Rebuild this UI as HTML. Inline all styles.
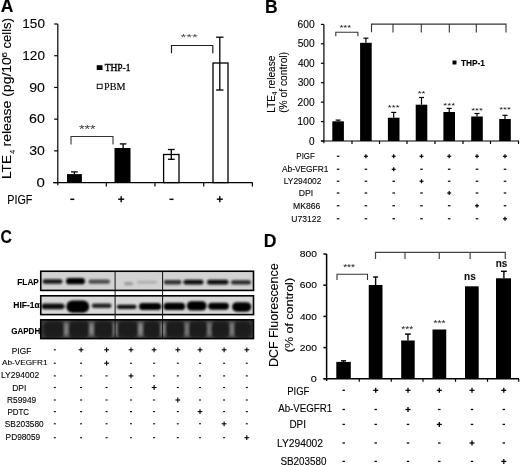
<!DOCTYPE html>
<html><head><meta charset="utf-8"><style>
html,body{margin:0;padding:0;background:#fff;font-family:"Liberation Sans", sans-serif;overflow:hidden;}
svg{display:block;filter:blur(0.35px);}
</style></head><body>
<svg width="520" height="465" viewBox="0 0 520 465">
<rect width="520" height="465" fill="#fff"/>
<text x="0.80" y="12.30" font-size="17.5" text-anchor="start" font-weight="bold" font-family="Liberation Sans" fill="#000" stroke="#000" stroke-width="0.1" >A</text>
<line x1="57.80" y1="24.00" x2="57.80" y2="185.20" stroke="#000" stroke-width="1.2"/>
<line x1="54.20" y1="182.60" x2="57.80" y2="182.60" stroke="#000" stroke-width="1.2"/>
<text x="36.60" y="186.88" font-size="12.43" text-anchor="start" font-weight="normal" font-family="Liberation Sans" fill="#000" stroke="#000" stroke-width="0.1" textLength="8.38" lengthAdjust="spacingAndGlyphs" >0</text>
<line x1="54.20" y1="150.88" x2="57.80" y2="150.88" stroke="#000" stroke-width="1.2"/>
<text x="29.26" y="155.16" font-size="12.43" text-anchor="start" font-weight="normal" font-family="Liberation Sans" fill="#000" stroke="#000" stroke-width="0.1" textLength="15.68" lengthAdjust="spacingAndGlyphs" >30</text>
<line x1="54.20" y1="119.16" x2="57.80" y2="119.16" stroke="#000" stroke-width="1.2"/>
<text x="29.09" y="123.44" font-size="12.43" text-anchor="start" font-weight="normal" font-family="Liberation Sans" fill="#000" stroke="#000" stroke-width="0.1" textLength="15.86" lengthAdjust="spacingAndGlyphs" >60</text>
<line x1="54.20" y1="87.44" x2="57.80" y2="87.44" stroke="#000" stroke-width="1.2"/>
<text x="29.15" y="91.72" font-size="12.43" text-anchor="start" font-weight="normal" font-family="Liberation Sans" fill="#000" stroke="#000" stroke-width="0.1" textLength="15.8" lengthAdjust="spacingAndGlyphs" >90</text>
<line x1="54.20" y1="55.72" x2="57.80" y2="55.72" stroke="#000" stroke-width="1.2"/>
<text x="22.37" y="60.00" font-size="12.43" text-anchor="start" font-weight="normal" font-family="Liberation Sans" fill="#000" stroke="#000" stroke-width="0.1" textLength="22.55" lengthAdjust="spacingAndGlyphs" >120</text>
<line x1="54.20" y1="24.00" x2="57.80" y2="24.00" stroke="#000" stroke-width="1.2"/>
<text x="22.37" y="28.28" font-size="12.43" text-anchor="start" font-weight="normal" font-family="Liberation Sans" fill="#000" stroke="#000" stroke-width="0.1" textLength="22.55" lengthAdjust="spacingAndGlyphs" >150</text>
<line x1="53.10" y1="182.60" x2="252.50" y2="182.60" stroke="#000" stroke-width="1.2"/>
<line x1="106.30" y1="182.60" x2="106.30" y2="186.60" stroke="#000" stroke-width="1.2"/>
<line x1="155.00" y1="182.60" x2="155.00" y2="186.60" stroke="#000" stroke-width="1.2"/>
<line x1="203.70" y1="182.60" x2="203.70" y2="186.60" stroke="#000" stroke-width="1.2"/>
<line x1="252.40" y1="182.60" x2="252.40" y2="186.60" stroke="#000" stroke-width="1.2"/>
<rect x="67.00" y="174.10" width="14.90" height="8.50" fill="#000" stroke="none" stroke-width="0"/>
<rect x="114.50" y="148.00" width="16.00" height="34.60" fill="#000" stroke="none" stroke-width="0"/>
<rect x="163.60" y="154.50" width="15.40" height="28.10" fill="#fff" stroke="#000" stroke-width="1.3"/>
<rect x="213.00" y="63.00" width="15.00" height="119.60" fill="#fff" stroke="#000" stroke-width="1.3"/>
<line x1="74.40" y1="171.90" x2="74.40" y2="174.10" stroke="#000" stroke-width="1.3"/>
<line x1="71.00" y1="171.90" x2="77.80" y2="171.90" stroke="#000" stroke-width="1.3"/>
<line x1="123.10" y1="143.90" x2="123.10" y2="148.00" stroke="#000" stroke-width="1.3"/>
<line x1="119.80" y1="143.90" x2="126.40" y2="143.90" stroke="#000" stroke-width="1.3"/>
<line x1="171.30" y1="149.50" x2="171.30" y2="159.30" stroke="#000" stroke-width="1.3"/>
<line x1="167.90" y1="149.50" x2="174.70" y2="149.50" stroke="#000" stroke-width="1.3"/>
<line x1="167.90" y1="159.30" x2="174.70" y2="159.30" stroke="#000" stroke-width="1.3"/>
<line x1="219.80" y1="37.20" x2="219.80" y2="90.00" stroke="#000" stroke-width="1.3"/>
<line x1="216.10" y1="37.20" x2="223.50" y2="37.20" stroke="#000" stroke-width="1.3"/>
<line x1="216.10" y1="90.00" x2="223.50" y2="90.00" stroke="#000" stroke-width="1.3"/>
<path d="M71,144.5 L71,136.5 L113,136.5 L113,144.5" stroke="#333" stroke-width="1.1" fill="none"/>
<text x="87.30" y="132.55" font-size="10.0" text-anchor="middle" font-weight="normal" font-family="Liberation Sans" fill="#333" textLength="16.65" lengthAdjust="spacingAndGlyphs" >***</text>
<path d="M171.5,53.3 L171.5,45.5 L212.8,45.5 L212.8,53.3" stroke="#222" stroke-width="1.2" fill="none"/>
<text x="189.20" y="39.96" font-size="8.86" text-anchor="middle" font-weight="normal" font-family="Liberation Sans" fill="#444" textLength="17.25" lengthAdjust="spacingAndGlyphs" >***</text>
<rect x="96.70" y="65.20" width="5.80" height="4.80" fill="#000" stroke="none" stroke-width="0"/>
<text x="104.63" y="70.60" font-size="9.7" text-anchor="start" font-weight="normal" font-family="Liberation Serif" fill="#000" stroke="#000" stroke-width="0.35" textLength="25.74" lengthAdjust="spacingAndGlyphs" >THP-1</text>
<rect x="97.20" y="84.20" width="4.90" height="4.40" fill="#fff" stroke="#000" stroke-width="0.9"/>
<text x="104.12" y="89.58" font-size="9.6" text-anchor="start" font-weight="normal" font-family="Liberation Serif" fill="#000" stroke="#000" stroke-width="0.15" textLength="21.37" lengthAdjust="spacingAndGlyphs" >PBM</text>
<g transform="translate(11.40,179.02) rotate(-90)">
<text x="0.00" y="0.00" font-size="12.2" text-anchor="start" font-weight="normal" font-family="Liberation Sans" fill="#000" stroke="#000" stroke-width="0.1" textLength="24.02" lengthAdjust="spacingAndGlyphs" >LTE</text>
</g>
<g transform="translate(15.00,153.97) rotate(-90)">
<text x="0.00" y="0.00" font-size="8" text-anchor="start" font-weight="normal" font-family="Liberation Sans" fill="#000" stroke="#000" stroke-width="0.1" textLength="4.3" lengthAdjust="spacingAndGlyphs" >4</text>
</g>
<g transform="translate(11.40,146.52) rotate(-90)">
<text x="0.00" y="0.00" font-size="12.2" text-anchor="start" font-weight="normal" font-family="Liberation Sans" fill="#000" stroke="#000" stroke-width="0.1" textLength="89.37" lengthAdjust="spacingAndGlyphs" >release (pg/10</text>
</g>
<g transform="translate(6.60,57.72) rotate(-90)">
<text x="0.00" y="0.00" font-size="7.4" text-anchor="start" font-weight="normal" font-family="Liberation Sans" fill="#000" stroke="#000" stroke-width="0.1" textLength="5.78" lengthAdjust="spacingAndGlyphs" >6</text>
</g>
<g transform="translate(11.40,48.55) rotate(-90)">
<text x="0.00" y="0.00" font-size="12.2" text-anchor="start" font-weight="normal" font-family="Liberation Sans" fill="#000" stroke="#000" stroke-width="0.1" textLength="30.58" lengthAdjust="spacingAndGlyphs" >cells)</text>
</g>
<text x="7.22" y="203.68" font-size="11.86" text-anchor="start" font-weight="normal" font-family="Liberation Sans" fill="#000" stroke="#000" stroke-width="0.1" textLength="25.13" lengthAdjust="spacingAndGlyphs" >PIGF</text>
<line x1="70.30" y1="199.30" x2="74.30" y2="199.30" stroke="#000" stroke-width="1.5"/>
<line x1="118.20" y1="199.20" x2="124.20" y2="199.20" stroke="#000" stroke-width="1.4"/>
<line x1="121.20" y1="196.20" x2="121.20" y2="202.20" stroke="#000" stroke-width="1.4"/>
<line x1="169.50" y1="199.30" x2="173.50" y2="199.30" stroke="#000" stroke-width="1.5"/>
<line x1="216.80" y1="199.20" x2="222.80" y2="199.20" stroke="#000" stroke-width="1.4"/>
<line x1="219.80" y1="196.20" x2="219.80" y2="202.20" stroke="#000" stroke-width="1.4"/>
<text x="265.00" y="12.50" font-size="17.5" text-anchor="start" font-weight="bold" font-family="Liberation Sans" fill="#000" stroke="#000" stroke-width="0.1" >B</text>
<line x1="323.90" y1="24.40" x2="323.90" y2="143.20" stroke="#000" stroke-width="1.2"/>
<line x1="320.90" y1="141.00" x2="323.90" y2="141.00" stroke="#000" stroke-width="1.2"/>
<text x="309.10" y="144.55" font-size="10.31" text-anchor="start" font-weight="normal" font-family="Liberation Sans" fill="#000" stroke="#000" stroke-width="0.1" textLength="5.58" lengthAdjust="spacingAndGlyphs" >0</text>
<line x1="320.90" y1="121.57" x2="323.90" y2="121.57" stroke="#000" stroke-width="1.2"/>
<text x="297.31" y="125.11" font-size="10.31" text-anchor="start" font-weight="normal" font-family="Liberation Sans" fill="#000" stroke="#000" stroke-width="0.1" textLength="17.39" lengthAdjust="spacingAndGlyphs" >100</text>
<line x1="320.90" y1="102.13" x2="323.90" y2="102.13" stroke="#000" stroke-width="1.2"/>
<text x="297.59" y="105.68" font-size="10.31" text-anchor="start" font-weight="normal" font-family="Liberation Sans" fill="#000" stroke="#000" stroke-width="0.1" textLength="17.11" lengthAdjust="spacingAndGlyphs" >200</text>
<line x1="320.90" y1="82.70" x2="323.90" y2="82.70" stroke="#000" stroke-width="1.2"/>
<text x="297.71" y="86.25" font-size="10.31" text-anchor="start" font-weight="normal" font-family="Liberation Sans" fill="#000" stroke="#000" stroke-width="0.1" textLength="16.98" lengthAdjust="spacingAndGlyphs" >300</text>
<line x1="320.90" y1="63.27" x2="323.90" y2="63.27" stroke="#000" stroke-width="1.2"/>
<text x="297.88" y="66.81" font-size="10.31" text-anchor="start" font-weight="normal" font-family="Liberation Sans" fill="#000" stroke="#000" stroke-width="0.1" textLength="16.81" lengthAdjust="spacingAndGlyphs" >400</text>
<line x1="320.90" y1="43.83" x2="323.90" y2="43.83" stroke="#000" stroke-width="1.2"/>
<text x="297.69" y="47.38" font-size="10.31" text-anchor="start" font-weight="normal" font-family="Liberation Sans" fill="#000" stroke="#000" stroke-width="0.1" textLength="17.0" lengthAdjust="spacingAndGlyphs" >500</text>
<line x1="320.90" y1="24.40" x2="323.90" y2="24.40" stroke="#000" stroke-width="1.2"/>
<text x="297.59" y="27.95" font-size="10.31" text-anchor="start" font-weight="normal" font-family="Liberation Sans" fill="#000" stroke="#000" stroke-width="0.1" textLength="17.11" lengthAdjust="spacingAndGlyphs" >600</text>
<line x1="321.00" y1="141.00" x2="519.00" y2="141.00" stroke="#000" stroke-width="1.2"/>
<line x1="352.00" y1="141.00" x2="352.00" y2="144.00" stroke="#000" stroke-width="1.2"/>
<line x1="379.50" y1="141.00" x2="379.50" y2="144.00" stroke="#000" stroke-width="1.2"/>
<line x1="407.00" y1="141.00" x2="407.00" y2="144.00" stroke="#000" stroke-width="1.2"/>
<line x1="435.00" y1="141.00" x2="435.00" y2="144.00" stroke="#000" stroke-width="1.2"/>
<line x1="463.00" y1="141.00" x2="463.00" y2="144.00" stroke="#000" stroke-width="1.2"/>
<line x1="490.50" y1="141.00" x2="490.50" y2="144.00" stroke="#000" stroke-width="1.2"/>
<line x1="518.50" y1="141.00" x2="518.50" y2="144.00" stroke="#000" stroke-width="1.2"/>
<rect x="332.30" y="121.30" width="11.60" height="19.70" fill="#000" stroke="none" stroke-width="0"/>
<line x1="338.10" y1="120.10" x2="338.10" y2="121.30" stroke="#000" stroke-width="1.2"/>
<line x1="335.60" y1="120.10" x2="340.60" y2="120.10" stroke="#000" stroke-width="1.2"/>
<rect x="360.10" y="42.80" width="11.60" height="98.20" fill="#000" stroke="none" stroke-width="0"/>
<line x1="365.90" y1="38.20" x2="365.90" y2="42.80" stroke="#000" stroke-width="1.2"/>
<line x1="363.40" y1="38.20" x2="368.40" y2="38.20" stroke="#000" stroke-width="1.2"/>
<rect x="387.90" y="117.70" width="11.60" height="23.30" fill="#000" stroke="none" stroke-width="0"/>
<line x1="393.70" y1="112.40" x2="393.70" y2="117.70" stroke="#000" stroke-width="1.2"/>
<line x1="391.20" y1="112.40" x2="396.20" y2="112.40" stroke="#000" stroke-width="1.2"/>
<text x="393.70" y="109.92" font-size="8.0" text-anchor="middle" font-weight="normal" font-family="Liberation Sans" fill="#111" textLength="11.7" lengthAdjust="spacingAndGlyphs" >***</text>
<rect x="415.70" y="104.70" width="11.60" height="36.30" fill="#000" stroke="none" stroke-width="0"/>
<line x1="421.50" y1="97.50" x2="421.50" y2="104.70" stroke="#000" stroke-width="1.2"/>
<line x1="419.00" y1="97.50" x2="424.00" y2="97.50" stroke="#000" stroke-width="1.2"/>
<text x="421.50" y="96.02" font-size="8.0" text-anchor="middle" font-weight="normal" font-family="Liberation Sans" fill="#111" textLength="7.6" lengthAdjust="spacingAndGlyphs" >**</text>
<rect x="443.40" y="112.00" width="11.60" height="29.00" fill="#000" stroke="none" stroke-width="0"/>
<line x1="449.20" y1="108.40" x2="449.20" y2="112.00" stroke="#000" stroke-width="1.2"/>
<line x1="446.70" y1="108.40" x2="451.70" y2="108.40" stroke="#000" stroke-width="1.2"/>
<text x="449.20" y="108.12" font-size="8.0" text-anchor="middle" font-weight="normal" font-family="Liberation Sans" fill="#111" textLength="11.7" lengthAdjust="spacingAndGlyphs" >***</text>
<rect x="471.20" y="116.50" width="11.60" height="24.50" fill="#000" stroke="none" stroke-width="0"/>
<line x1="477.00" y1="113.50" x2="477.00" y2="116.50" stroke="#000" stroke-width="1.2"/>
<line x1="474.50" y1="113.50" x2="479.50" y2="113.50" stroke="#000" stroke-width="1.2"/>
<text x="477.00" y="112.62" font-size="8.0" text-anchor="middle" font-weight="normal" font-family="Liberation Sans" fill="#111" textLength="11.7" lengthAdjust="spacingAndGlyphs" >***</text>
<rect x="499.20" y="119.00" width="11.60" height="22.00" fill="#000" stroke="none" stroke-width="0"/>
<line x1="505.00" y1="115.30" x2="505.00" y2="119.00" stroke="#000" stroke-width="1.2"/>
<line x1="502.50" y1="115.30" x2="507.50" y2="115.30" stroke="#000" stroke-width="1.2"/>
<text x="505.00" y="111.92" font-size="8.0" text-anchor="middle" font-weight="normal" font-family="Liberation Sans" fill="#111" textLength="11.7" lengthAdjust="spacingAndGlyphs" >***</text>
<path d="M335.8,36.3 L335.8,32.2 L357.9,32.2 L357.9,36.3" stroke="#333" stroke-width="1.1" fill="none"/>
<text x="345.30" y="30.37" font-size="7.71" text-anchor="middle" font-weight="normal" font-family="Liberation Sans" fill="#111" textLength="11.7" lengthAdjust="spacingAndGlyphs" >***</text>
<path d="M371.5,32.2 L371.5,24.1 L506,24.1 L506,32.5" stroke="#333" stroke-width="1.1" fill="none"/>
<line x1="393.00" y1="24.10" x2="393.00" y2="32.50" stroke="#333" stroke-width="1.1"/>
<line x1="421.30" y1="24.10" x2="421.30" y2="32.50" stroke="#333" stroke-width="1.1"/>
<line x1="449.30" y1="24.10" x2="449.30" y2="32.50" stroke="#333" stroke-width="1.1"/>
<line x1="476.30" y1="24.10" x2="476.30" y2="32.50" stroke="#333" stroke-width="1.1"/>
<rect x="452.50" y="60.50" width="4.00" height="4.00" fill="#000" stroke="none" stroke-width="0"/>
<text x="461.00" y="66.00" font-size="9" text-anchor="start" font-weight="bold" font-family="Liberation Sans" fill="#000" stroke="#000" stroke-width="0.1" textLength="24" lengthAdjust="spacingAndGlyphs" >THP-1</text>
<g transform="translate(274.69,112.70) rotate(-90)">
<text x="0.00" y="0.00" font-size="10.76" text-anchor="start" font-weight="normal" font-family="Liberation Sans" fill="#000" stroke="#000" stroke-width="0.1" textLength="57.02" lengthAdjust="spacingAndGlyphs" >LTE<tspan font-size="6.5" dy="2">4</tspan><tspan dy="-2"> release</tspan></text>
</g>
<g transform="translate(286.91,112.83) rotate(-90)">
<text x="0.00" y="0.00" font-size="10.52" text-anchor="start" font-weight="normal" font-family="Liberation Sans" fill="#000" stroke="#000" stroke-width="0.1" textLength="60.87" lengthAdjust="spacingAndGlyphs" >(% of control)</text>
</g>
<text x="296.35" y="159.26" font-size="8.76" text-anchor="start" font-weight="normal" font-family="Liberation Sans" fill="#000" stroke="#000" stroke-width="0.1" textLength="18.48" lengthAdjust="spacingAndGlyphs" >PIGF</text>
<line x1="336.80" y1="156.25" x2="339.40" y2="156.25" stroke="#000" stroke-width="1.2"/>
<line x1="363.90" y1="156.25" x2="367.90" y2="156.25" stroke="#000" stroke-width="1.2"/>
<line x1="365.90" y1="154.25" x2="365.90" y2="158.25" stroke="#000" stroke-width="1.2"/>
<line x1="391.70" y1="156.25" x2="395.70" y2="156.25" stroke="#000" stroke-width="1.2"/>
<line x1="393.70" y1="154.25" x2="393.70" y2="158.25" stroke="#000" stroke-width="1.2"/>
<line x1="419.50" y1="156.25" x2="423.50" y2="156.25" stroke="#000" stroke-width="1.2"/>
<line x1="421.50" y1="154.25" x2="421.50" y2="158.25" stroke="#000" stroke-width="1.2"/>
<line x1="447.20" y1="156.25" x2="451.20" y2="156.25" stroke="#000" stroke-width="1.2"/>
<line x1="449.20" y1="154.25" x2="449.20" y2="158.25" stroke="#000" stroke-width="1.2"/>
<line x1="475.00" y1="156.25" x2="479.00" y2="156.25" stroke="#000" stroke-width="1.2"/>
<line x1="477.00" y1="154.25" x2="477.00" y2="158.25" stroke="#000" stroke-width="1.2"/>
<line x1="503.00" y1="156.25" x2="507.00" y2="156.25" stroke="#000" stroke-width="1.2"/>
<line x1="505.00" y1="154.25" x2="505.00" y2="158.25" stroke="#000" stroke-width="1.2"/>
<text x="281.98" y="172.27" font-size="8.45" text-anchor="start" font-weight="normal" font-family="Liberation Sans" fill="#000" stroke="#000" stroke-width="0.1" textLength="46.41" lengthAdjust="spacingAndGlyphs" >Ab-VEGFR1</text>
<line x1="336.80" y1="169.25" x2="339.40" y2="169.25" stroke="#000" stroke-width="1.2"/>
<line x1="364.60" y1="169.25" x2="367.20" y2="169.25" stroke="#000" stroke-width="1.2"/>
<line x1="391.70" y1="169.25" x2="395.70" y2="169.25" stroke="#000" stroke-width="1.2"/>
<line x1="393.70" y1="167.25" x2="393.70" y2="171.25" stroke="#000" stroke-width="1.2"/>
<line x1="420.20" y1="169.25" x2="422.80" y2="169.25" stroke="#000" stroke-width="1.2"/>
<line x1="447.90" y1="169.25" x2="450.50" y2="169.25" stroke="#000" stroke-width="1.2"/>
<line x1="475.70" y1="169.25" x2="478.30" y2="169.25" stroke="#000" stroke-width="1.2"/>
<line x1="503.70" y1="169.25" x2="506.30" y2="169.25" stroke="#000" stroke-width="1.2"/>
<text x="283.81" y="184.26" font-size="8.76" text-anchor="start" font-weight="normal" font-family="Liberation Sans" fill="#000" stroke="#000" stroke-width="0.1" textLength="37.61" lengthAdjust="spacingAndGlyphs" >LY294002</text>
<line x1="336.80" y1="181.25" x2="339.40" y2="181.25" stroke="#000" stroke-width="1.2"/>
<line x1="364.60" y1="181.25" x2="367.20" y2="181.25" stroke="#000" stroke-width="1.2"/>
<line x1="392.40" y1="181.25" x2="395.00" y2="181.25" stroke="#000" stroke-width="1.2"/>
<line x1="419.50" y1="181.25" x2="423.50" y2="181.25" stroke="#000" stroke-width="1.2"/>
<line x1="421.50" y1="179.25" x2="421.50" y2="183.25" stroke="#000" stroke-width="1.2"/>
<line x1="447.90" y1="181.25" x2="450.50" y2="181.25" stroke="#000" stroke-width="1.2"/>
<line x1="475.70" y1="181.25" x2="478.30" y2="181.25" stroke="#000" stroke-width="1.2"/>
<line x1="503.70" y1="181.25" x2="506.30" y2="181.25" stroke="#000" stroke-width="1.2"/>
<text x="298.79" y="196.10" font-size="9.01" text-anchor="start" font-weight="normal" font-family="Liberation Sans" fill="#000" stroke="#000" stroke-width="0.1" textLength="14.51" lengthAdjust="spacingAndGlyphs" >DPI</text>
<line x1="336.80" y1="193.00" x2="339.40" y2="193.00" stroke="#000" stroke-width="1.2"/>
<line x1="364.60" y1="193.00" x2="367.20" y2="193.00" stroke="#000" stroke-width="1.2"/>
<line x1="392.40" y1="193.00" x2="395.00" y2="193.00" stroke="#000" stroke-width="1.2"/>
<line x1="420.20" y1="193.00" x2="422.80" y2="193.00" stroke="#000" stroke-width="1.2"/>
<line x1="447.20" y1="193.00" x2="451.20" y2="193.00" stroke="#000" stroke-width="1.2"/>
<line x1="449.20" y1="191.00" x2="449.20" y2="195.00" stroke="#000" stroke-width="1.2"/>
<line x1="475.70" y1="193.00" x2="478.30" y2="193.00" stroke="#000" stroke-width="1.2"/>
<line x1="503.70" y1="193.00" x2="506.30" y2="193.00" stroke="#000" stroke-width="1.2"/>
<text x="293.04" y="208.76" font-size="8.76" text-anchor="start" font-weight="normal" font-family="Liberation Sans" fill="#000" stroke="#000" stroke-width="0.1" textLength="27.34" lengthAdjust="spacingAndGlyphs" >MK866</text>
<line x1="336.80" y1="205.75" x2="339.40" y2="205.75" stroke="#000" stroke-width="1.2"/>
<line x1="364.60" y1="205.75" x2="367.20" y2="205.75" stroke="#000" stroke-width="1.2"/>
<line x1="392.40" y1="205.75" x2="395.00" y2="205.75" stroke="#000" stroke-width="1.2"/>
<line x1="420.20" y1="205.75" x2="422.80" y2="205.75" stroke="#000" stroke-width="1.2"/>
<line x1="447.90" y1="205.75" x2="450.50" y2="205.75" stroke="#000" stroke-width="1.2"/>
<line x1="475.00" y1="205.75" x2="479.00" y2="205.75" stroke="#000" stroke-width="1.2"/>
<line x1="477.00" y1="203.75" x2="477.00" y2="207.75" stroke="#000" stroke-width="1.2"/>
<line x1="503.70" y1="205.75" x2="506.30" y2="205.75" stroke="#000" stroke-width="1.2"/>
<text x="291.34" y="221.76" font-size="8.76" text-anchor="start" font-weight="normal" font-family="Liberation Sans" fill="#000" stroke="#000" stroke-width="0.1" textLength="29.85" lengthAdjust="spacingAndGlyphs" >U73122</text>
<line x1="336.80" y1="218.75" x2="339.40" y2="218.75" stroke="#000" stroke-width="1.2"/>
<line x1="364.60" y1="218.75" x2="367.20" y2="218.75" stroke="#000" stroke-width="1.2"/>
<line x1="392.40" y1="218.75" x2="395.00" y2="218.75" stroke="#000" stroke-width="1.2"/>
<line x1="420.20" y1="218.75" x2="422.80" y2="218.75" stroke="#000" stroke-width="1.2"/>
<line x1="447.90" y1="218.75" x2="450.50" y2="218.75" stroke="#000" stroke-width="1.2"/>
<line x1="475.70" y1="218.75" x2="478.30" y2="218.75" stroke="#000" stroke-width="1.2"/>
<line x1="503.00" y1="218.75" x2="507.00" y2="218.75" stroke="#000" stroke-width="1.2"/>
<line x1="505.00" y1="216.75" x2="505.00" y2="220.75" stroke="#000" stroke-width="1.2"/>
<text x="0.54" y="243.32" font-size="18.36" text-anchor="start" font-weight="bold" font-family="Liberation Sans" fill="#000" stroke="#000" stroke-width="0.1" textLength="11.41" lengthAdjust="spacingAndGlyphs" >C</text>
<defs><filter id="bl" x="-20%" y="-50%" width="140%" height="200%"><feGaussianBlur stdDeviation="0.9"/></filter><filter id="bl2" x="-20%" y="-50%" width="140%" height="200%"><feGaussianBlur stdDeviation="1.5"/></filter><clipPath id="c1"><rect x="41" y="271.5" width="212" height="18.5"/></clipPath><clipPath id="c2"><rect x="41" y="296" width="212" height="18.5"/></clipPath><clipPath id="c3"><rect x="41" y="320" width="212" height="18.5"/></clipPath></defs>
<rect x="40.75" y="271.25" width="212.75" height="19.15" fill="#d2d2d2" stroke="none" stroke-width="0"/>
<g clip-path="url(#c1)" filter="url(#bl)">
<rect x="42.50" y="279.20" width="20.00" height="4.60" rx="2.30" fill="#141414"/>
<rect x="66.00" y="278.00" width="19.00" height="6.30" rx="3.15" fill="#000"/>
<rect x="88.50" y="279.40" width="21.50" height="4.40" rx="2.20" fill="#4a4a4a"/>
<rect x="124.00" y="281.90" width="9.00" height="3.40" rx="1.70" fill="#999"/>
<rect x="137.00" y="280.70" width="20.00" height="3.00" rx="1.50" fill="#b0b0b0"/>
<rect x="163.80" y="280.10" width="17.70" height="4.30" rx="2.15" fill="#303030"/>
<rect x="183.50" y="279.80" width="20.00" height="4.70" rx="2.35" fill="#0a0a0a"/>
<rect x="207.00" y="279.80" width="21.50" height="4.70" rx="2.35" fill="#0a0a0a"/>
<rect x="231.00" y="280.30" width="20.00" height="4.20" rx="2.10" fill="#2a2a2a"/>
</g>
<rect x="40.75" y="271.25" width="212.75" height="19.15" fill="none" stroke="#000" stroke-width="1.6"/>
<rect x="40.75" y="295.80" width="212.75" height="18.80" fill="#d8d8d8" stroke="none" stroke-width="0"/>
<g clip-path="url(#c2)" filter="url(#bl)">
<rect x="41.50" y="303.40" width="23.00" height="5.80" rx="2.90" fill="#111"/>
<rect x="66.30" y="300.40" width="22.90" height="12.30" rx="6.15" fill="#000"/>
<rect x="91.80" y="303.60" width="19.70" height="4.50" rx="2.25" fill="#222"/>
<rect x="116.80" y="304.80" width="19.80" height="4.10" rx="2.05" fill="#111"/>
<rect x="139.00" y="302.90" width="22.30" height="7.20" rx="3.60" fill="#000"/>
<rect x="163.60" y="302.80" width="21.50" height="7.30" rx="3.65" fill="#000"/>
<rect x="186.80" y="301.20" width="19.80" height="9.30" rx="4.65" fill="#000"/>
<rect x="208.20" y="302.80" width="20.70" height="6.90" rx="3.45" fill="#000"/>
<rect x="232.10" y="302.20" width="19.20" height="9.50" rx="4.75" fill="#050505"/>
</g>
<rect x="40.75" y="295.80" width="212.75" height="18.80" fill="none" stroke="#000" stroke-width="1.6"/>
<rect x="40.75" y="319.80" width="212.75" height="18.80" fill="#3c3c3c" stroke="none" stroke-width="0"/>
<g clip-path="url(#c3)" filter="url(#bl2)">
<ellipse cx="66.25" cy="329.2" rx="1.55" ry="7.5" fill="#9c9c9c"/>
<ellipse cx="91.55" cy="329.2" rx="1.55" ry="7.5" fill="#9c9c9c"/>
<ellipse cx="115.20" cy="329.2" rx="1.50" ry="7.5" fill="#9c9c9c"/>
<ellipse cx="140.50" cy="329.2" rx="1.80" ry="7.5" fill="#9c9c9c"/>
<ellipse cx="163.00" cy="329.2" rx="1.80" ry="7.5" fill="#9c9c9c"/>
<ellipse cx="186.80" cy="329.2" rx="1.30" ry="7.5" fill="#9c9c9c"/>
<ellipse cx="209.35" cy="329.2" rx="1.30" ry="7.5" fill="#9c9c9c"/>
<ellipse cx="231.90" cy="329.2" rx="1.40" ry="7.5" fill="#9c9c9c"/>
<rect x="42.80" y="320.80" width="21.90" height="17.20" rx="7.00" fill="#1a1a1a"/>
<rect x="67.80" y="320.80" width="22.20" height="17.20" rx="7.00" fill="#1a1a1a"/>
<rect x="93.10" y="320.80" width="20.60" height="17.20" rx="7.00" fill="#1a1a1a"/>
<rect x="116.70" y="320.80" width="22.00" height="17.20" rx="7.00" fill="#1a1a1a"/>
<rect x="142.30" y="320.80" width="18.90" height="17.20" rx="7.00" fill="#1a1a1a"/>
<rect x="164.80" y="320.80" width="20.90" height="17.20" rx="7.00" fill="#1a1a1a"/>
<rect x="187.90" y="320.80" width="20.30" height="17.20" rx="7.00" fill="#1a1a1a"/>
<rect x="210.50" y="320.80" width="20.00" height="17.20" rx="7.00" fill="#1a1a1a"/>
<rect x="233.30" y="320.80" width="18.90" height="17.20" rx="7.00" fill="#1a1a1a"/>
</g>
<rect x="40.75" y="319.80" width="212.75" height="18.80" fill="none" stroke="#000" stroke-width="1.6"/>
<line x1="115.10" y1="271.25" x2="115.10" y2="338.60" stroke="#111" stroke-width="1"/>
<line x1="162.60" y1="271.25" x2="162.60" y2="338.60" stroke="#111" stroke-width="1"/>
<text x="17.36" y="285.40" font-size="8.43" text-anchor="start" font-weight="bold" font-family="Liberation Sans" fill="#000" stroke="#000" stroke-width="0.1" textLength="21.43" lengthAdjust="spacingAndGlyphs" >FLAP</text>
<text x="13.34" y="308.11" font-size="9.03" text-anchor="start" font-weight="bold" font-family="Liberation Sans" fill="#000" stroke="#000" stroke-width="0.1" textLength="26.45" lengthAdjust="spacingAndGlyphs" >HIF-1α</text>
<text x="11.16" y="334.01" font-size="9.04" text-anchor="start" font-weight="bold" font-family="Liberation Sans" fill="#000" stroke="#000" stroke-width="0.1" textLength="29.08" lengthAdjust="spacingAndGlyphs" >GAPDH</text>
<text x="11.82" y="353.92" font-size="8.19" text-anchor="start" font-weight="normal" font-family="Liberation Sans" fill="#000" stroke="#000" stroke-width="0.1" textLength="19.43" lengthAdjust="spacingAndGlyphs" >PIGF</text>
<line x1="53.80" y1="349.80" x2="55.80" y2="349.80" stroke="#000" stroke-width="1.1"/>
<line x1="78.70" y1="349.80" x2="83.50" y2="349.80" stroke="#000" stroke-width="1.1"/>
<line x1="81.10" y1="347.40" x2="81.10" y2="352.20" stroke="#000" stroke-width="1.1"/>
<line x1="104.20" y1="349.80" x2="109.00" y2="349.80" stroke="#000" stroke-width="1.1"/>
<line x1="106.60" y1="347.40" x2="106.60" y2="352.20" stroke="#000" stroke-width="1.1"/>
<line x1="128.60" y1="349.80" x2="133.40" y2="349.80" stroke="#000" stroke-width="1.1"/>
<line x1="131.00" y1="347.40" x2="131.00" y2="352.20" stroke="#000" stroke-width="1.1"/>
<line x1="151.70" y1="349.80" x2="156.50" y2="349.80" stroke="#000" stroke-width="1.1"/>
<line x1="154.10" y1="347.40" x2="154.10" y2="352.20" stroke="#000" stroke-width="1.1"/>
<line x1="175.40" y1="349.80" x2="180.20" y2="349.80" stroke="#000" stroke-width="1.1"/>
<line x1="177.80" y1="347.40" x2="177.80" y2="352.20" stroke="#000" stroke-width="1.1"/>
<line x1="197.60" y1="349.80" x2="202.40" y2="349.80" stroke="#000" stroke-width="1.1"/>
<line x1="200.00" y1="347.40" x2="200.00" y2="352.20" stroke="#000" stroke-width="1.1"/>
<line x1="221.70" y1="349.80" x2="226.50" y2="349.80" stroke="#000" stroke-width="1.1"/>
<line x1="224.10" y1="347.40" x2="224.10" y2="352.20" stroke="#000" stroke-width="1.1"/>
<line x1="244.40" y1="349.80" x2="249.20" y2="349.80" stroke="#000" stroke-width="1.1"/>
<line x1="246.80" y1="347.40" x2="246.80" y2="352.20" stroke="#000" stroke-width="1.1"/>
<text x="2.08" y="364.82" font-size="7.9" text-anchor="start" font-weight="normal" font-family="Liberation Sans" fill="#000" stroke="#000" stroke-width="0.1" textLength="45.4" lengthAdjust="spacingAndGlyphs" >Ab-VEGFR1</text>
<line x1="53.80" y1="363.20" x2="55.80" y2="363.20" stroke="#000" stroke-width="1.1"/>
<line x1="80.10" y1="363.20" x2="82.10" y2="363.20" stroke="#000" stroke-width="1.1"/>
<line x1="104.20" y1="363.20" x2="109.00" y2="363.20" stroke="#000" stroke-width="1.1"/>
<line x1="106.60" y1="360.80" x2="106.60" y2="365.60" stroke="#000" stroke-width="1.1"/>
<line x1="130.00" y1="363.20" x2="132.00" y2="363.20" stroke="#000" stroke-width="1.1"/>
<line x1="153.10" y1="363.20" x2="155.10" y2="363.20" stroke="#000" stroke-width="1.1"/>
<line x1="176.80" y1="363.20" x2="178.80" y2="363.20" stroke="#000" stroke-width="1.1"/>
<line x1="199.00" y1="363.20" x2="201.00" y2="363.20" stroke="#000" stroke-width="1.1"/>
<line x1="223.10" y1="363.20" x2="225.10" y2="363.20" stroke="#000" stroke-width="1.1"/>
<line x1="245.80" y1="363.20" x2="247.80" y2="363.20" stroke="#000" stroke-width="1.1"/>
<text x="1.00" y="378.22" font-size="8.19" text-anchor="start" font-weight="normal" font-family="Liberation Sans" fill="#000" stroke="#000" stroke-width="0.1" textLength="38.12" lengthAdjust="spacingAndGlyphs" >LY294002</text>
<line x1="53.80" y1="375.90" x2="55.80" y2="375.90" stroke="#000" stroke-width="1.1"/>
<line x1="80.10" y1="375.90" x2="82.10" y2="375.90" stroke="#000" stroke-width="1.1"/>
<line x1="105.60" y1="375.90" x2="107.60" y2="375.90" stroke="#000" stroke-width="1.1"/>
<line x1="128.60" y1="375.90" x2="133.40" y2="375.90" stroke="#000" stroke-width="1.1"/>
<line x1="131.00" y1="373.50" x2="131.00" y2="378.30" stroke="#000" stroke-width="1.1"/>
<line x1="153.10" y1="375.90" x2="155.10" y2="375.90" stroke="#000" stroke-width="1.1"/>
<line x1="176.80" y1="375.90" x2="178.80" y2="375.90" stroke="#000" stroke-width="1.1"/>
<line x1="199.00" y1="375.90" x2="201.00" y2="375.90" stroke="#000" stroke-width="1.1"/>
<line x1="223.10" y1="375.90" x2="225.10" y2="375.90" stroke="#000" stroke-width="1.1"/>
<line x1="245.80" y1="375.90" x2="247.80" y2="375.90" stroke="#000" stroke-width="1.1"/>
<text x="12.20" y="390.50" font-size="8.43" text-anchor="start" font-weight="normal" font-family="Liberation Sans" fill="#000" stroke="#000" stroke-width="0.1" textLength="14.17" lengthAdjust="spacingAndGlyphs" >DPI</text>
<line x1="53.80" y1="387.50" x2="55.80" y2="387.50" stroke="#000" stroke-width="1.1"/>
<line x1="80.10" y1="387.50" x2="82.10" y2="387.50" stroke="#000" stroke-width="1.1"/>
<line x1="105.60" y1="387.50" x2="107.60" y2="387.50" stroke="#000" stroke-width="1.1"/>
<line x1="130.00" y1="387.50" x2="132.00" y2="387.50" stroke="#000" stroke-width="1.1"/>
<line x1="151.70" y1="387.50" x2="156.50" y2="387.50" stroke="#000" stroke-width="1.1"/>
<line x1="154.10" y1="385.10" x2="154.10" y2="389.90" stroke="#000" stroke-width="1.1"/>
<line x1="176.80" y1="387.50" x2="178.80" y2="387.50" stroke="#000" stroke-width="1.1"/>
<line x1="199.00" y1="387.50" x2="201.00" y2="387.50" stroke="#000" stroke-width="1.1"/>
<line x1="223.10" y1="387.50" x2="225.10" y2="387.50" stroke="#000" stroke-width="1.1"/>
<line x1="245.80" y1="387.50" x2="247.80" y2="387.50" stroke="#000" stroke-width="1.1"/>
<text x="7.12" y="403.02" font-size="8.19" text-anchor="start" font-weight="normal" font-family="Liberation Sans" fill="#000" stroke="#000" stroke-width="0.1" textLength="29.09" lengthAdjust="spacingAndGlyphs" >R59949</text>
<line x1="53.80" y1="400.00" x2="55.80" y2="400.00" stroke="#000" stroke-width="1.1"/>
<line x1="80.10" y1="400.00" x2="82.10" y2="400.00" stroke="#000" stroke-width="1.1"/>
<line x1="105.60" y1="400.00" x2="107.60" y2="400.00" stroke="#000" stroke-width="1.1"/>
<line x1="130.00" y1="400.00" x2="132.00" y2="400.00" stroke="#000" stroke-width="1.1"/>
<line x1="153.10" y1="400.00" x2="155.10" y2="400.00" stroke="#000" stroke-width="1.1"/>
<line x1="175.40" y1="400.00" x2="180.20" y2="400.00" stroke="#000" stroke-width="1.1"/>
<line x1="177.80" y1="397.60" x2="177.80" y2="402.40" stroke="#000" stroke-width="1.1"/>
<line x1="199.00" y1="400.00" x2="201.00" y2="400.00" stroke="#000" stroke-width="1.1"/>
<line x1="223.10" y1="400.00" x2="225.10" y2="400.00" stroke="#000" stroke-width="1.1"/>
<line x1="245.80" y1="400.00" x2="247.80" y2="400.00" stroke="#000" stroke-width="1.1"/>
<text x="7.45" y="415.02" font-size="8.19" text-anchor="start" font-weight="normal" font-family="Liberation Sans" fill="#000" stroke="#000" stroke-width="0.1" textLength="21.66" lengthAdjust="spacingAndGlyphs" >PDTC</text>
<line x1="53.80" y1="411.60" x2="55.80" y2="411.60" stroke="#000" stroke-width="1.1"/>
<line x1="80.10" y1="411.60" x2="82.10" y2="411.60" stroke="#000" stroke-width="1.1"/>
<line x1="105.60" y1="411.60" x2="107.60" y2="411.60" stroke="#000" stroke-width="1.1"/>
<line x1="130.00" y1="411.60" x2="132.00" y2="411.60" stroke="#000" stroke-width="1.1"/>
<line x1="153.10" y1="411.60" x2="155.10" y2="411.60" stroke="#000" stroke-width="1.1"/>
<line x1="176.80" y1="411.60" x2="178.80" y2="411.60" stroke="#000" stroke-width="1.1"/>
<line x1="197.60" y1="411.60" x2="202.40" y2="411.60" stroke="#000" stroke-width="1.1"/>
<line x1="200.00" y1="409.20" x2="200.00" y2="414.00" stroke="#000" stroke-width="1.1"/>
<line x1="223.10" y1="411.60" x2="225.10" y2="411.60" stroke="#000" stroke-width="1.1"/>
<line x1="245.80" y1="411.60" x2="247.80" y2="411.60" stroke="#000" stroke-width="1.1"/>
<text x="4.82" y="427.42" font-size="8.19" text-anchor="start" font-weight="normal" font-family="Liberation Sans" fill="#000" stroke="#000" stroke-width="0.1" textLength="38.81" lengthAdjust="spacingAndGlyphs" >SB203580</text>
<line x1="53.80" y1="423.80" x2="55.80" y2="423.80" stroke="#000" stroke-width="1.1"/>
<line x1="80.10" y1="423.80" x2="82.10" y2="423.80" stroke="#000" stroke-width="1.1"/>
<line x1="105.60" y1="423.80" x2="107.60" y2="423.80" stroke="#000" stroke-width="1.1"/>
<line x1="130.00" y1="423.80" x2="132.00" y2="423.80" stroke="#000" stroke-width="1.1"/>
<line x1="153.10" y1="423.80" x2="155.10" y2="423.80" stroke="#000" stroke-width="1.1"/>
<line x1="176.80" y1="423.80" x2="178.80" y2="423.80" stroke="#000" stroke-width="1.1"/>
<line x1="199.00" y1="423.80" x2="201.00" y2="423.80" stroke="#000" stroke-width="1.1"/>
<line x1="221.70" y1="423.80" x2="226.50" y2="423.80" stroke="#000" stroke-width="1.1"/>
<line x1="224.10" y1="421.40" x2="224.10" y2="426.20" stroke="#000" stroke-width="1.1"/>
<line x1="245.80" y1="423.80" x2="247.80" y2="423.80" stroke="#000" stroke-width="1.1"/>
<text x="5.62" y="439.52" font-size="8.19" text-anchor="start" font-weight="normal" font-family="Liberation Sans" fill="#000" stroke="#000" stroke-width="0.1" textLength="34.58" lengthAdjust="spacingAndGlyphs" >PD98059</text>
<line x1="53.80" y1="437.70" x2="55.80" y2="437.70" stroke="#000" stroke-width="1.1"/>
<line x1="80.10" y1="437.70" x2="82.10" y2="437.70" stroke="#000" stroke-width="1.1"/>
<line x1="105.60" y1="437.70" x2="107.60" y2="437.70" stroke="#000" stroke-width="1.1"/>
<line x1="130.00" y1="437.70" x2="132.00" y2="437.70" stroke="#000" stroke-width="1.1"/>
<line x1="153.10" y1="437.70" x2="155.10" y2="437.70" stroke="#000" stroke-width="1.1"/>
<line x1="176.80" y1="437.70" x2="178.80" y2="437.70" stroke="#000" stroke-width="1.1"/>
<line x1="199.00" y1="437.70" x2="201.00" y2="437.70" stroke="#000" stroke-width="1.1"/>
<line x1="223.10" y1="437.70" x2="225.10" y2="437.70" stroke="#000" stroke-width="1.1"/>
<line x1="244.40" y1="437.70" x2="249.20" y2="437.70" stroke="#000" stroke-width="1.1"/>
<line x1="246.80" y1="435.30" x2="246.80" y2="440.10" stroke="#000" stroke-width="1.1"/>
<text x="263.74" y="246.80" font-size="18.75" text-anchor="start" font-weight="bold" font-family="Liberation Sans" fill="#000" stroke="#000" stroke-width="0.1" textLength="12.7" lengthAdjust="spacingAndGlyphs" >D</text>
<line x1="326.60" y1="254.00" x2="326.60" y2="381.00" stroke="#000" stroke-width="1.5"/>
<line x1="323.40" y1="378.80" x2="326.60" y2="378.80" stroke="#000" stroke-width="1.5"/>
<text x="310.86" y="382.01" font-size="9.32" text-anchor="start" font-weight="normal" font-family="Liberation Sans" fill="#000" stroke="#000" stroke-width="0.1" textLength="6.05" lengthAdjust="spacingAndGlyphs" >0</text>
<line x1="323.40" y1="347.60" x2="326.60" y2="347.60" stroke="#000" stroke-width="1.5"/>
<text x="299.68" y="350.81" font-size="9.32" text-anchor="start" font-weight="normal" font-family="Liberation Sans" fill="#000" stroke="#000" stroke-width="0.1" textLength="17.21" lengthAdjust="spacingAndGlyphs" >200</text>
<line x1="323.40" y1="316.40" x2="326.60" y2="316.40" stroke="#000" stroke-width="1.5"/>
<text x="299.98" y="319.61" font-size="9.32" text-anchor="start" font-weight="normal" font-family="Liberation Sans" fill="#000" stroke="#000" stroke-width="0.1" textLength="16.91" lengthAdjust="spacingAndGlyphs" >400</text>
<line x1="323.40" y1="285.20" x2="326.60" y2="285.20" stroke="#000" stroke-width="1.5"/>
<text x="299.68" y="288.41" font-size="9.32" text-anchor="start" font-weight="normal" font-family="Liberation Sans" fill="#000" stroke="#000" stroke-width="0.1" textLength="17.21" lengthAdjust="spacingAndGlyphs" >600</text>
<line x1="323.40" y1="254.00" x2="326.60" y2="254.00" stroke="#000" stroke-width="1.5"/>
<text x="299.75" y="257.21" font-size="9.32" text-anchor="start" font-weight="normal" font-family="Liberation Sans" fill="#000" stroke="#000" stroke-width="0.1" textLength="17.15" lengthAdjust="spacingAndGlyphs" >800</text>
<line x1="323.70" y1="378.80" x2="519.00" y2="378.80" stroke="#000" stroke-width="1.5"/>
<line x1="359.25" y1="378.80" x2="359.25" y2="381.80" stroke="#000" stroke-width="1.2"/>
<line x1="391.25" y1="378.80" x2="391.25" y2="381.80" stroke="#000" stroke-width="1.2"/>
<line x1="423.00" y1="378.80" x2="423.00" y2="381.80" stroke="#000" stroke-width="1.2"/>
<line x1="455.50" y1="378.80" x2="455.50" y2="381.80" stroke="#000" stroke-width="1.2"/>
<line x1="487.50" y1="378.80" x2="487.50" y2="381.80" stroke="#000" stroke-width="1.2"/>
<line x1="518.75" y1="378.80" x2="518.75" y2="381.80" stroke="#000" stroke-width="1.2"/>
<rect x="336.30" y="361.90" width="14.50" height="16.90" fill="#000" stroke="none" stroke-width="0"/>
<line x1="343.55" y1="360.80" x2="343.55" y2="361.90" stroke="#000" stroke-width="1.4"/>
<line x1="341.05" y1="360.80" x2="346.05" y2="360.80" stroke="#000" stroke-width="1.4"/>
<rect x="368.75" y="285.00" width="13.75" height="93.80" fill="#000" stroke="none" stroke-width="0"/>
<line x1="375.62" y1="277.00" x2="375.62" y2="285.00" stroke="#000" stroke-width="1.4"/>
<line x1="373.12" y1="277.00" x2="378.12" y2="277.00" stroke="#000" stroke-width="1.4"/>
<rect x="401.20" y="340.50" width="13.50" height="38.30" fill="#000" stroke="none" stroke-width="0"/>
<line x1="407.95" y1="334.10" x2="407.95" y2="340.50" stroke="#000" stroke-width="1.4"/>
<line x1="405.05" y1="334.10" x2="410.85" y2="334.10" stroke="#000" stroke-width="1.4"/>
<rect x="432.50" y="329.50" width="13.75" height="49.30" fill="#000" stroke="none" stroke-width="0"/>
<rect x="465.00" y="286.30" width="13.70" height="92.50" fill="#000" stroke="none" stroke-width="0"/>
<rect x="496.00" y="278.30" width="15.00" height="100.50" fill="#000" stroke="none" stroke-width="0"/>
<line x1="503.90" y1="271.30" x2="503.90" y2="278.30" stroke="#000" stroke-width="1.4"/>
<line x1="501.00" y1="271.30" x2="506.80" y2="271.30" stroke="#000" stroke-width="1.4"/>
<path d="M337,280 L337,274.3 L367.5,274.3 L367.5,280" stroke="#333" stroke-width="1.1" fill="none"/>
<text x="349.00" y="269.71" font-size="9.14" text-anchor="middle" font-weight="normal" font-family="Liberation Sans" fill="#222" textLength="11.7" lengthAdjust="spacingAndGlyphs" >***</text>
<path d="M375.5,259 L375.5,252.3 L505.3,252.3 L505.3,259" stroke="#444" stroke-width="1.2" fill="none"/>
<line x1="405.00" y1="252.30" x2="405.00" y2="259.00" stroke="#444" stroke-width="1.2"/>
<line x1="439.25" y1="252.30" x2="439.25" y2="259.00" stroke="#444" stroke-width="1.2"/>
<line x1="470.20" y1="252.30" x2="470.20" y2="259.00" stroke="#444" stroke-width="1.2"/>
<text x="407.30" y="331.61" font-size="8.57" text-anchor="middle" font-weight="normal" font-family="Liberation Sans" fill="#222" textLength="12.0" lengthAdjust="spacingAndGlyphs" >***</text>
<text x="439.40" y="325.81" font-size="8.57" text-anchor="middle" font-weight="normal" font-family="Liberation Sans" fill="#222" textLength="12.0" lengthAdjust="spacingAndGlyphs" >***</text>
<text x="464.13" y="279.90" font-size="10.04" text-anchor="start" font-weight="bold" font-family="Liberation Sans" fill="#111" stroke="#111" stroke-width="0.1" textLength="11.78" lengthAdjust="spacingAndGlyphs" >ns</text>
<text x="495.64" y="267.00" font-size="10.22" text-anchor="start" font-weight="bold" font-family="Liberation Sans" fill="#111" stroke="#111" stroke-width="0.1" textLength="11.67" lengthAdjust="spacingAndGlyphs" >ns</text>
<g transform="translate(278.17,367.02) rotate(-90)">
<text x="0.00" y="0.00" font-size="13.35" text-anchor="start" font-weight="normal" font-family="Liberation Sans" fill="#000" stroke="#000" stroke-width="0.1" textLength="103.56" lengthAdjust="spacingAndGlyphs" >DCF Fluorescence</text>
</g>
<g transform="translate(293.00,352.28) rotate(-90)">
<text x="0.00" y="0.00" font-size="11.0" text-anchor="start" font-weight="normal" font-family="Liberation Sans" fill="#000" stroke="#000" stroke-width="0.1" textLength="74.35" lengthAdjust="spacingAndGlyphs" >(% of control)</text>
</g>
<text x="287.22" y="394.80" font-size="10.45" text-anchor="start" font-weight="normal" font-family="Liberation Sans" fill="#000" stroke="#000" stroke-width="0.1" textLength="22.07" lengthAdjust="spacingAndGlyphs" >PIGF</text>
<line x1="342.50" y1="390.30" x2="344.90" y2="390.30" stroke="#000" stroke-width="1.3"/>
<line x1="373.20" y1="390.30" x2="378.20" y2="390.30" stroke="#000" stroke-width="1.3"/>
<line x1="375.70" y1="387.80" x2="375.70" y2="392.80" stroke="#000" stroke-width="1.3"/>
<line x1="405.50" y1="390.30" x2="410.50" y2="390.30" stroke="#000" stroke-width="1.3"/>
<line x1="408.00" y1="387.80" x2="408.00" y2="392.80" stroke="#000" stroke-width="1.3"/>
<line x1="436.80" y1="390.30" x2="441.80" y2="390.30" stroke="#000" stroke-width="1.3"/>
<line x1="439.30" y1="387.80" x2="439.30" y2="392.80" stroke="#000" stroke-width="1.3"/>
<line x1="469.50" y1="390.30" x2="474.50" y2="390.30" stroke="#000" stroke-width="1.3"/>
<line x1="472.00" y1="387.80" x2="472.00" y2="392.80" stroke="#000" stroke-width="1.3"/>
<line x1="501.30" y1="390.30" x2="506.30" y2="390.30" stroke="#000" stroke-width="1.3"/>
<line x1="503.80" y1="387.80" x2="503.80" y2="392.80" stroke="#000" stroke-width="1.3"/>
<text x="278.18" y="412.10" font-size="10.08" text-anchor="start" font-weight="normal" font-family="Liberation Sans" fill="#000" stroke="#000" stroke-width="0.1" textLength="53.98" lengthAdjust="spacingAndGlyphs" >Ab-VEGFR1</text>
<line x1="342.50" y1="409.50" x2="344.90" y2="409.50" stroke="#000" stroke-width="1.3"/>
<line x1="374.50" y1="409.50" x2="376.90" y2="409.50" stroke="#000" stroke-width="1.3"/>
<line x1="405.50" y1="409.50" x2="410.50" y2="409.50" stroke="#000" stroke-width="1.3"/>
<line x1="408.00" y1="407.00" x2="408.00" y2="412.00" stroke="#000" stroke-width="1.3"/>
<line x1="438.10" y1="409.50" x2="440.50" y2="409.50" stroke="#000" stroke-width="1.3"/>
<line x1="470.80" y1="409.50" x2="473.20" y2="409.50" stroke="#000" stroke-width="1.3"/>
<line x1="502.60" y1="409.50" x2="505.00" y2="409.50" stroke="#000" stroke-width="1.3"/>
<text x="289.39" y="427.60" font-size="10.76" text-anchor="start" font-weight="normal" font-family="Liberation Sans" fill="#000" stroke="#000" stroke-width="0.1" textLength="16.51" lengthAdjust="spacingAndGlyphs" >DPI</text>
<line x1="342.50" y1="424.40" x2="344.90" y2="424.40" stroke="#000" stroke-width="1.3"/>
<line x1="374.50" y1="424.40" x2="376.90" y2="424.40" stroke="#000" stroke-width="1.3"/>
<line x1="406.80" y1="424.40" x2="409.20" y2="424.40" stroke="#000" stroke-width="1.3"/>
<line x1="436.80" y1="424.40" x2="441.80" y2="424.40" stroke="#000" stroke-width="1.3"/>
<line x1="439.30" y1="421.90" x2="439.30" y2="426.90" stroke="#000" stroke-width="1.3"/>
<line x1="470.80" y1="424.40" x2="473.20" y2="424.40" stroke="#000" stroke-width="1.3"/>
<line x1="502.60" y1="424.40" x2="505.00" y2="424.40" stroke="#000" stroke-width="1.3"/>
<text x="277.06" y="446.50" font-size="10.45" text-anchor="start" font-weight="normal" font-family="Liberation Sans" fill="#000" stroke="#000" stroke-width="0.1" textLength="45.95" lengthAdjust="spacingAndGlyphs" >LY294002</text>
<line x1="342.50" y1="443.00" x2="344.90" y2="443.00" stroke="#000" stroke-width="1.3"/>
<line x1="374.50" y1="443.00" x2="376.90" y2="443.00" stroke="#000" stroke-width="1.3"/>
<line x1="406.80" y1="443.00" x2="409.20" y2="443.00" stroke="#000" stroke-width="1.3"/>
<line x1="438.10" y1="443.00" x2="440.50" y2="443.00" stroke="#000" stroke-width="1.3"/>
<line x1="469.50" y1="443.00" x2="474.50" y2="443.00" stroke="#000" stroke-width="1.3"/>
<line x1="472.00" y1="440.50" x2="472.00" y2="445.50" stroke="#000" stroke-width="1.3"/>
<line x1="502.60" y1="443.00" x2="505.00" y2="443.00" stroke="#000" stroke-width="1.3"/>
<text x="280.45" y="464.60" font-size="10.45" text-anchor="start" font-weight="normal" font-family="Liberation Sans" fill="#000" stroke="#000" stroke-width="0.1" textLength="46.14" lengthAdjust="spacingAndGlyphs" >SB203580</text>
<line x1="342.50" y1="461.40" x2="344.90" y2="461.40" stroke="#000" stroke-width="1.3"/>
<line x1="374.50" y1="461.40" x2="376.90" y2="461.40" stroke="#000" stroke-width="1.3"/>
<line x1="406.80" y1="461.40" x2="409.20" y2="461.40" stroke="#000" stroke-width="1.3"/>
<line x1="438.10" y1="461.40" x2="440.50" y2="461.40" stroke="#000" stroke-width="1.3"/>
<line x1="470.80" y1="461.40" x2="473.20" y2="461.40" stroke="#000" stroke-width="1.3"/>
<line x1="501.30" y1="461.40" x2="506.30" y2="461.40" stroke="#000" stroke-width="1.3"/>
<line x1="503.80" y1="458.90" x2="503.80" y2="463.90" stroke="#000" stroke-width="1.3"/>
</svg>
</body></html>
